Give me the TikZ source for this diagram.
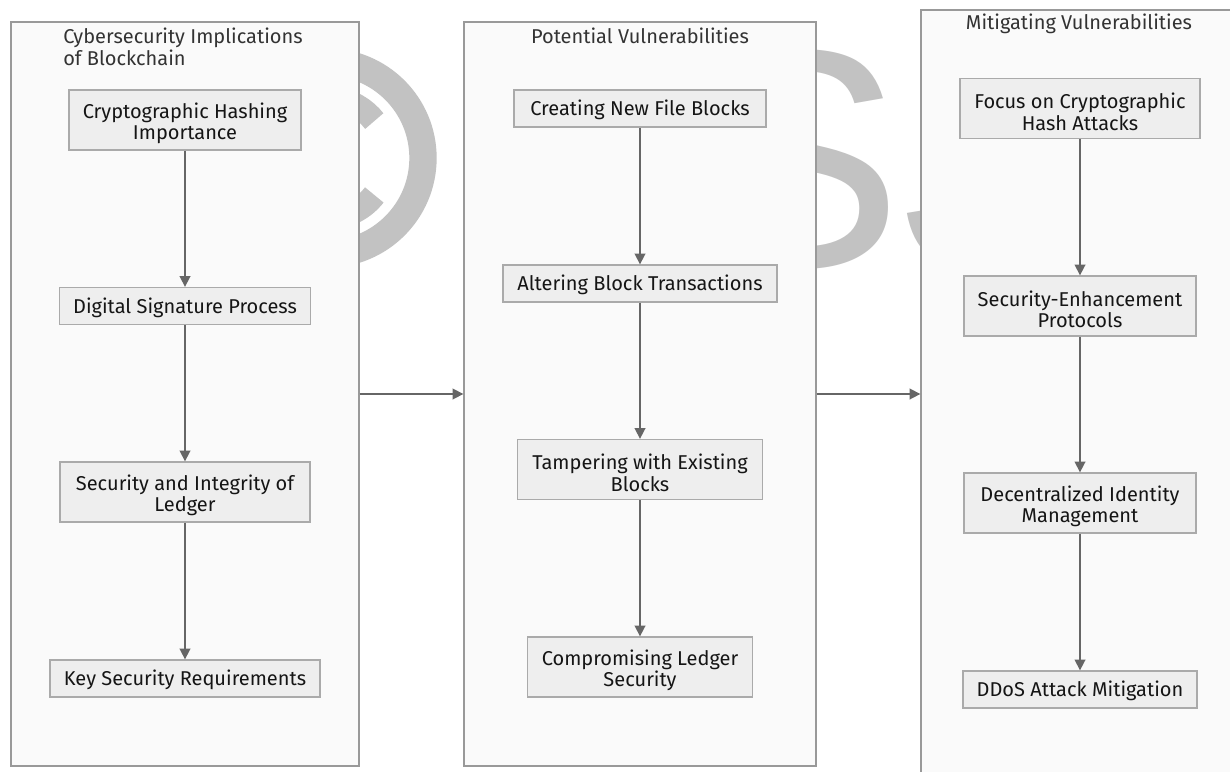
\documentclass[tikz,border=0pt]{standalone}
\usepackage{fontspec}
\setmainfont{Fira Sans}
\newfontfamily\wmfont{Liberation Sans}
\usetikzlibrary{arrows.meta,fit}
\definecolor{clusterfill}{HTML}{FAFAFA}
\definecolor{clusterline}{HTML}{999999}
\definecolor{boxfill}{HTML}{EEEEEE}
\definecolor{boxline}{HTML}{AAAAAA}
\definecolor{linkcol}{HTML}{666666}
\definecolor{titlecol}{HTML}{333333}
\definecolor{textcol}{HTML}{151515}
\definecolor{wmcol}{HTML}{C2C2C2}
\begin{document}
\begin{tikzpicture}[x=0.75pt,y=-0.75pt,
  cluster/.style={draw=clusterline, fill=clusterfill, line width=1pt, inner sep=0pt},
  box/.style={draw=boxline, fill=boxfill, line width=1pt, inner sep=0pt,
    align=center, text=textcol, font=\fontsize{15}{16.3}\selectfont},
  one/.style={box, minimum height=27.75pt, text height=14pt, text depth=3pt},
  two/.style={box, minimum height=45pt},
  twotext/.style={inner sep=0pt, yshift=-2.5pt, align=center, text=textcol,
    font=\fontsize{15}{16.3}\selectfont},
  ctitle/.style={text=titlecol, inner sep=0pt, font=\fontsize{15}{16.3}\selectfont},
  link/.style={draw=linkcol, line width=1.2pt, -{Triangle[length=8pt,width=8pt]}},
  wmstroke/.style={draw=wmcol}
]
\useasboundingbox (0,0) rectangle (1230,771);
\fill[white] (0,0) rectangle (1230,771);
\begin{scope}
\clip (0,0) rectangle (1230,771);

% background watermark: copyright ring and lettering
\draw[wmstroke, line width=20.5pt] (327,158) circle [radius=96];
\draw[wmstroke, line width=18pt] (327,158) ++(38:60) arc[start angle=38, end angle=322, radius=60];
\node[anchor=base west, inner sep=0pt, text=wmcol,
      font=\wmfont\fontsize{233}{233}\selectfont] (wm) at (695,266) {SJ};

% clusters
\node[cluster, fit={(11,22) (359,766)}] (c1) {};
\node[cluster, fit={(464,22) (816,766)}] (c2) {};
\node[cluster, fit={(921,10) (1240,790)}] (c3) {};

\node[ctitle, align=left, anchor=west] (t1) at (63,47) {Cybersecurity Implications\\of Blockchain};
\node[ctitle] (t2) at (640,36) {Potential Vulnerabilities};
\node[ctitle] (t3) at (1079,24) {Mitigating Vulnerabilities};

% first column
\node[two, minimum width=174pt,
  label={[twotext]center:{Cryptographic Hashing\\Importance}}] (a1) at (185,120) {};
\node[one, minimum width=188.25pt] (a2) at (185,306) {Digital Signature Process};
\node[two, minimum width=187.5pt,
  label={[twotext]center:{Security and Integrity of\\Ledger}}] (a3) at (185,492) {};
\node[one, minimum width=202.5pt] (a4) at (185,678.5) {Key Security Requirements};

% second column
\node[one, minimum width=189pt]   (b1) at (640,108.5) {Creating New File Blocks};
\node[one, minimum width=205.5pt] (b2) at (640,283.5) {Altering Block Transactions};
\node[two, minimum width=183.75pt,
  label={[twotext]center:{Tampering with Existing\\Blocks}}] (b3) at (640,469.5) {};
\node[two, minimum width=168.75pt,
  label={[twotext]center:{Compromising Ledger\\Security}}] (b4) at (640,667) {};

% third column
\node[two, minimum width=180pt,
  label={[twotext]center:{Focus on Cryptographic\\Hash Attacks}}] (d1) at (1080,108.5) {};
\node[two, minimum width=174pt,
  label={[twotext]center:{Security-Enhancement\\Protocols}}] (d2) at (1080,306) {};
\node[two, minimum width=174pt,
  label={[twotext]center:{Decentralized Identity\\Management}}] (d3) at (1080,503) {};
\node[one, minimum width=175.5pt] (d4) at (1080,689.5) {DDoS Attack Mitigation};

% links inside clusters
\draw[link] (a1.south) -- (a1.south |- a2.north);
\draw[link] (a2.south) -- (a2.south |- a3.north);
\draw[link] (a3.south) -- (a3.south |- a4.north);
\draw[link] (b1.south) -- (b1.south |- b2.north);
\draw[link] (b2.south) -- (b2.south |- b3.north);
\draw[link] (b3.south) -- (b3.south |- b4.north);
\draw[link] (d1.south) -- (d1.south |- d2.north);
\draw[link] (d2.south) -- (d2.south |- d3.north);
\draw[link] (d3.south) -- (d3.south |- d4.north);

% links between clusters
\draw[link] (c1.east) -- (c2.west);
\draw[link] (c2.east) -- (c2.east -| c3.west);
\end{scope}
\end{tikzpicture}
\end{document}
